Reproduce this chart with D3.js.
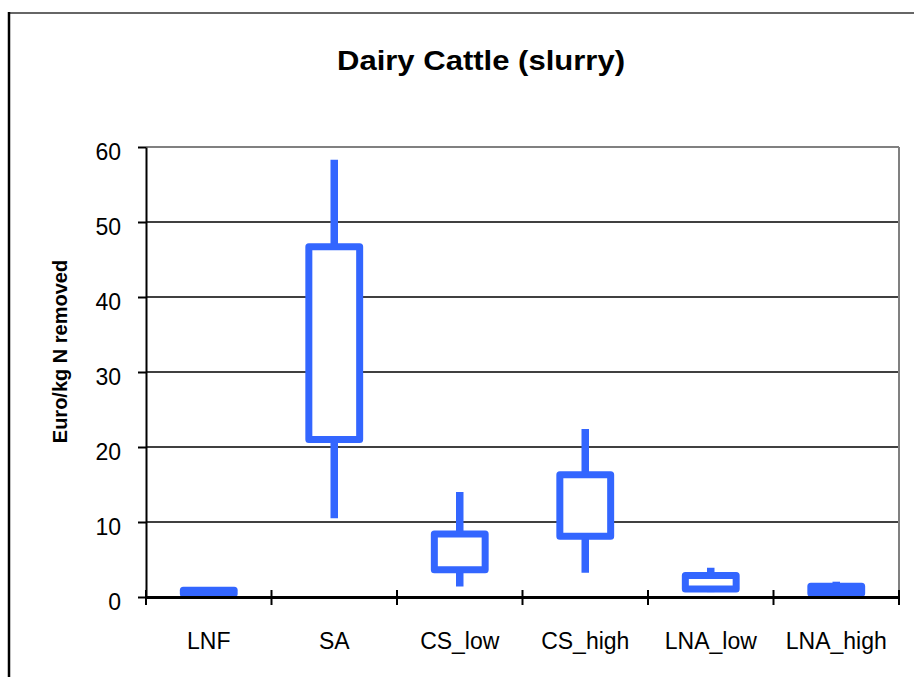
<!DOCTYPE html>
<html>
<head>
<meta charset="utf-8">
<script src="https://cdn.jsdelivr.net/npm/d3@7"></script>
<style>
  body { margin: 0; background: #fff; }
  text { font-family: "Liberation Sans", Arial, sans-serif; fill: #000; }
</style>
</head>
<body>
<div id="chart"></div>
<script>
// data
const categories = ["LNF", "SA", "CS_low", "CS_high", "LNA_low", "LNA_high"];
const minV = [0.4, 10.5, 1.4, 3.25, 0.65, 0.5];
const q1V  = [0.45, 21.0, 3.65, 8.1, 1.07, 0.5];
const q3V  = [0.9, 46.7, 8.4, 16.3, 2.87, 1.44];
const maxV = [0.9, 58.3, 14.0, 22.4, 3.9, 2.04];
const yTicks = [0, 10, 20, 30, 40, 50, 60];

const W = 914, H = 677
	, plot = { left: 146, right: 899, top: 147, bottom: 597 }
	, blue = "#3366FF";

const svg = d3.select("#chart").append("svg")
	.attr("width", W)
	.attr("height", H);

// outer chart frame (runs off the right/bottom edge)
svg.append("line").attr("x1", 8).attr("y1", 13).attr("x2", W + 5).attr("y2", 13)
	.attr("stroke", "#666").attr("stroke-width", 2);
svg.append("line").attr("x1", 9).attr("y1", 12).attr("x2", 9).attr("y2", H + 5)
	.attr("stroke", "#000").attr("stroke-width", 2.5);

const x = d3.scaleBand()
	.domain(categories)
	.range([plot.left, plot.right]);

const y = d3.scaleLinear()
	.domain([0, 60])
	.range([plot.bottom, plot.top]);

// gridlines
svg.append("g").selectAll("line")
	.data(yTicks.filter(d => d > 0 && d < 60))
	.join("line")
		.attr("x1", plot.left).attr("x2", plot.right)
		.attr("y1", d => y(d)).attr("y2", d => y(d))
		.attr("stroke", "#000").attr("stroke-width", 1.3);

// plot area border top/right (gray)
svg.append("line")
	.attr("x1", plot.left).attr("x2", plot.right)
	.attr("y1", y(60)).attr("y2", y(60))
	.attr("stroke", "#808080").attr("stroke-width", 2);
svg.append("line")
	.attr("x1", plot.right).attr("x2", plot.right)
	.attr("y1", y(60)).attr("y2", y(0))
	.attr("stroke", "#808080").attr("stroke-width", 2);

// y axis
const yAxis = svg.append("g")
	.attr("transform", "translate(" + plot.left + ",0)")
	.call(d3.axisLeft(y).tickValues(yTicks).tickSize(8).tickPadding(17).tickSizeOuter(0));
yAxis.select(".domain").attr("stroke", "#000").attr("stroke-width", 2);
yAxis.selectAll(".tick line").attr("stroke", "#000").attr("stroke-width", 2);
yAxis.selectAll(".tick text")
	.attr("dy", 12)
	.style("font-size", "23px")
	.style("font-family", "'Liberation Sans', Arial, sans-serif");

// boxes
const boxW = x.bandwidth() * 0.405
	, rows = categories.map((c, i) => ({ c: c, lo: minV[i], q1: q1V[i], q3: q3V[i], hi: maxV[i] }));

const g = svg.append("g");
g.selectAll("line.whisker")
	.data(rows)
	.join("line")
		.attr("class", "whisker")
		.attr("x1", d => x(d.c) + x.bandwidth() / 2)
		.attr("x2", d => x(d.c) + x.bandwidth() / 2)
		.attr("y1", d => y(d.hi))
		.attr("y2", d => y(d.lo))
		.attr("stroke", blue)
		.attr("stroke-width", 7.5);
g.selectAll("rect.box")
	.data(rows)
	.join("rect")
		.attr("class", "box")
		.attr("x", d => x(d.c) + x.bandwidth() / 2 - boxW / 2)
		.attr("width", boxW)
		.attr("y", d => y(d.q3))
		.attr("height", d => y(d.q1) - y(d.q3))
		.attr("fill", "#fff")
		.attr("stroke", blue)
		.attr("stroke-width", 7)
		.attr("stroke-linejoin", "round");

// x axis
const xAxis = svg.append("g")
	.attr("transform", "translate(0," + plot.bottom + ")")
	.call(d3.axisBottom(x).tickSize(0).tickPadding(36));
xAxis.select(".domain").attr("stroke", "#000").attr("stroke-width", 3);
xAxis.selectAll(".tick text")
	.style("font-size", "23px")
	.style("font-family", "'Liberation Sans', Arial, sans-serif");

// category boundary ticks crossing the axis
const bounds = categories.map(c => x(c)).concat([x.range()[1]]);
svg.append("g").selectAll("line")
	.data(bounds)
	.join("line")
		.attr("x1", d => d).attr("x2", d => d)
		.attr("y1", plot.bottom - 7).attr("y2", plot.bottom + 8)
		.attr("stroke", "#000").attr("stroke-width", 2);

// title
svg.append("text")
	.attr("x", 481)
	.attr("y", 69.5)
	.attr("text-anchor", "middle")
	.attr("textLength", 288)
	.attr("lengthAdjust", "spacingAndGlyphs")
	.style("font-size", "28px")
	.style("font-weight", "bold")
	.text("Dairy Cattle (slurry)");

// y axis title
svg.append("text")
	.attr("transform", "translate(67,351.5) rotate(-90)")
	.attr("text-anchor", "middle")
	.style("font-size", "20px")
	.style("font-weight", "bold")
	.text("Euro/kg N removed");
</script>
</body>
</html>
